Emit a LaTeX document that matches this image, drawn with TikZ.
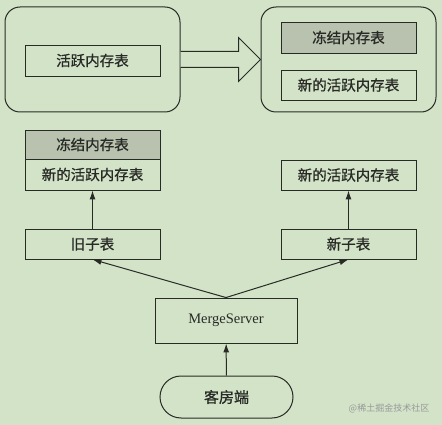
\documentclass[tikz,border=0pt]{standalone}
\usepackage{fontspec}
\newfontfamily\cjk{Noto Sans CJK SC}[FakeBold=0.9]
\newfontfamily\cjklight{Noto Sans CJK SC}
\newfontfamily\romanfont{Liberation Serif}
\usetikzlibrary{arrows.meta}
\definecolor{bgcol}{RGB}{211,227,200}
\definecolor{frozencol}{RGB}{184,194,175}
\definecolor{inkcol}{RGB}{40,42,38}
\tikzset{
  container/.style={draw=inkcol, line width=1pt, rounded corners=15pt,
    minimum width=175pt, minimum height=105pt},
  membox/.style={draw=inkcol, line width=0.9pt, minimum width=135pt,
    minimum height=30pt, inner sep=0pt, text=inkcol,
    font=\cjk\fontsize{14.5}{14.5}\selectfont},
  arr/.style={draw=inkcol, line width=1pt, -{Latex[length=9pt,width=6pt]}}
}

\begin{document}
\begin{tikzpicture}[x=1pt, y=-1pt]
  \useasboundingbox[fill=bgcol] (0,0) rectangle (442,425);

  % before the freeze
  \node[container] (oldside) at (92.5,59.5) {};
  \node[membox, minimum height=31pt] (active) at (92.5,60.5) {活跃内存表};

  % after the freeze
  \node[container] (newside) at (348.5,59.5) {};
  \node[membox, minimum height=31pt, fill=frozencol] (frozen) at (348.5,37.5) {冻结内存表};
  \node[membox] (fresh) at (348.5,85) {新的活跃内存表};

  \draw[inkcol, line width=1pt, fill=bgcol]
    ([yshift=8pt]oldside.east) -- ([xshift=-22pt, yshift=8pt]newside.west)
    -- ([xshift=-22pt, yshift=22pt]newside.west) -- (newside.west)
    -- ([xshift=-22pt, yshift=-22pt]newside.west)
    -- ([xshift=-22pt, yshift=-8pt]newside.west) -- ([yshift=-8pt]oldside.east);

  % tablets
  \node[membox, minimum height=29pt, fill=frozencol] (lfrozen) at (92.5,144.5) {冻结内存表};
  \node[membox, minimum height=31pt] (lfresh) at (92.5,174.5) {新的活跃内存表};
  \node[membox] (rfresh) at (348.5,175) {新的活跃内存表};
  \node[membox] (oldtab) at (92.5,244) {旧子表};
  \node[membox] (newtab) at (348.5,244) {新子表};

  \node[draw=inkcol, line width=0.9pt, minimum width=142pt, minimum height=45pt,
    text=inkcol, font=\romanfont\fontsize{14.5}{14.5}\selectfont] (merge) at (226,320.5) {MergeServer};
  \node[draw=inkcol, line width=1pt, rounded corners=21pt, minimum width=133pt,
    minimum height=42pt, text=inkcol, font=\cjk\fontsize{15}{15}\selectfont]
    (client) at (226.5,397) {客房端};

  \draw[arr] (oldtab) -- (lfresh);
  \draw[arr] (newtab) -- (rfresh);
  \draw[arr] (merge.north) -- (oldtab.south);
  \draw[arr] (merge.north) -- (newtab.south);
  \draw[arr] (client) -- (merge);

  \node[text=black!40, font=\cjklight\fontsize{9}{9}\selectfont] (mark) at (389,408) {@稀土掘金技术社区};
\end{tikzpicture}
\end{document}
